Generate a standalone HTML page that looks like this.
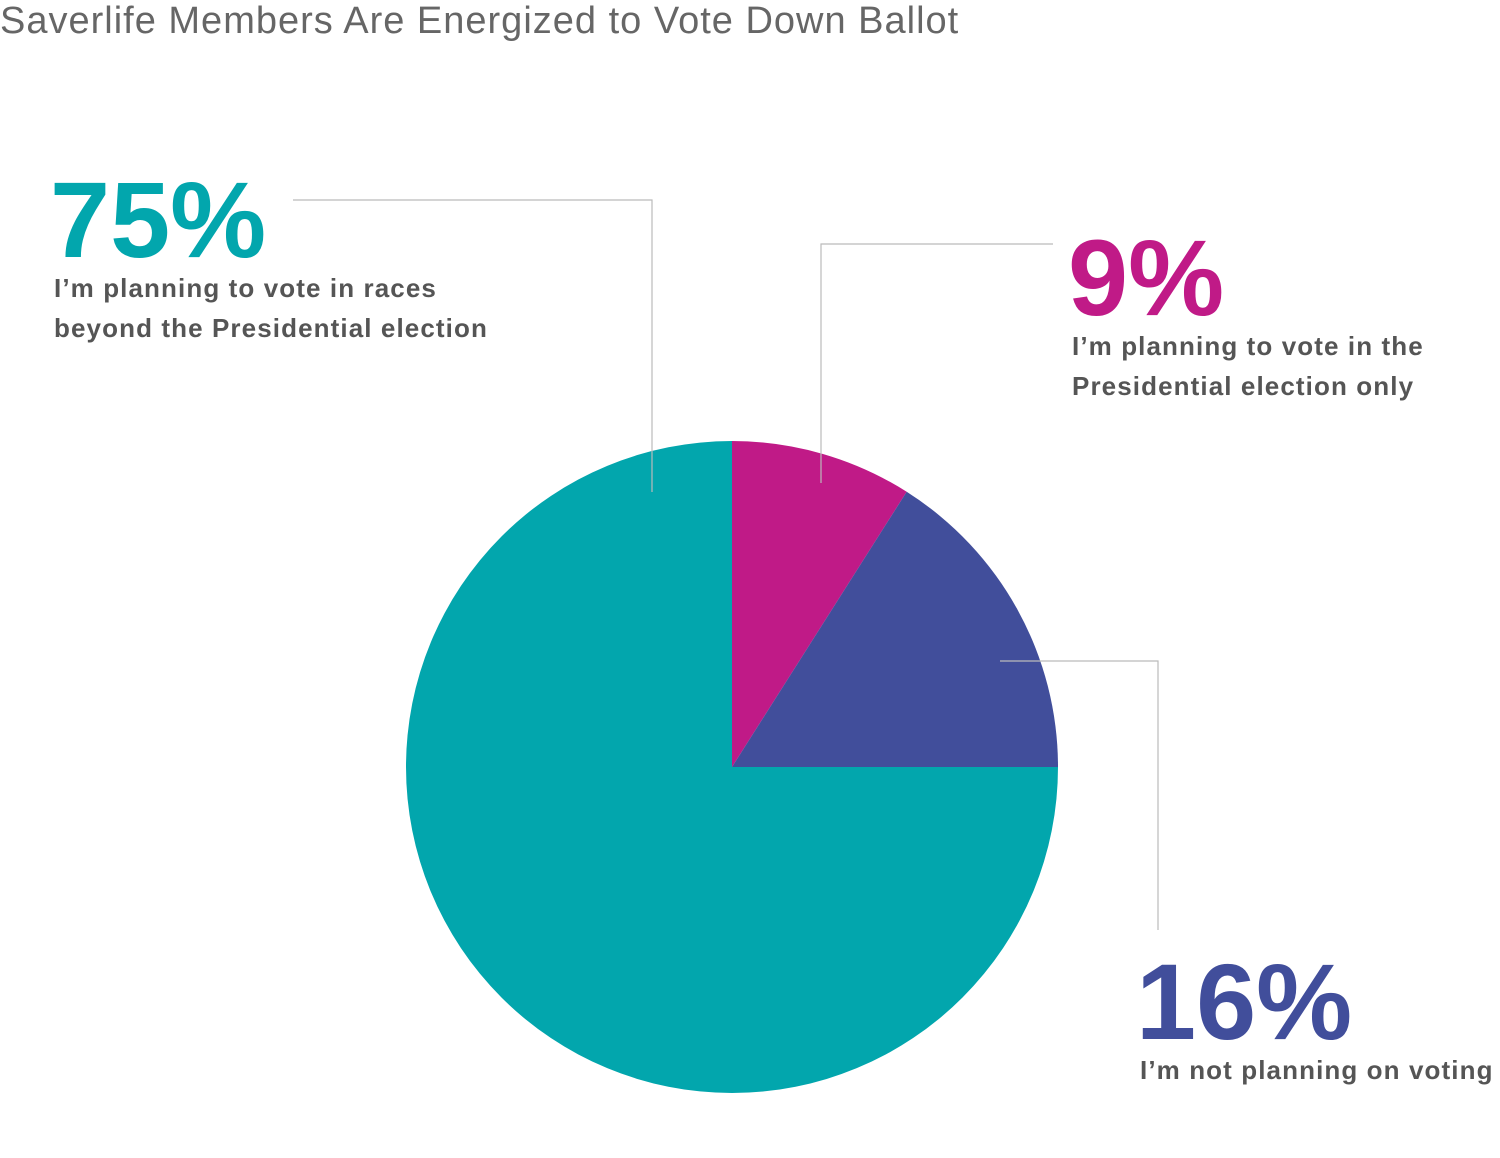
<!DOCTYPE html>
<html><head><meta charset="utf-8"><style>
body{margin:0;background:#fff;width:1500px;height:1158px;overflow:hidden;font-family:"Liberation Sans",sans-serif}
.t{position:absolute;white-space:nowrap}
.pct{font-weight:bold;font-size:108px;letter-spacing:0px;line-height:1}
.lab{font-weight:bold;font-size:26px;color:#555;line-height:40px;letter-spacing:1.1px}
</style></head><body>
<div class="t" style="left:0;top:0;font-size:38px;color:#666;letter-spacing:1px">Saverlife Members Are Energized to Vote Down Ballot</div>
<svg id="c" width="1500" height="1158" style="position:absolute;left:0;top:0"></svg>
<div class="t pct" style="left:50px;top:166px;color:#02a6ad">75%</div>
<div class="t lab" style="left:54px;top:268px">I’m planning to vote in races<br>beyond the Presidential election</div>
<div class="t pct" style="left:1068px;top:224px;color:#c01a87">9%</div>
<div class="t lab" style="left:1072px;top:326px">I’m planning to vote in the<br>Presidential election only</div>
<div class="t pct" style="left:1136px;top:948px;color:#414e9b">16%</div>
<div class="t lab" style="left:1140px;top:1050px">I’m not planning on voting</div>
<script>
const categories=["President only","Not voting","Beyond president"];
const values=[9,16,75];
const colors=["#c01a87","#414e9b","#02a6ad"];
const svg=document.getElementById('c');
const NS="http://www.w3.org/2000/svg";
const cx=732,cy=767,r=326;
const total=values.reduce((a,b)=>a+b,0);
let a0=0;
values.forEach((v,i)=>{
  const a1=a0+v/total*2*Math.PI;
  const x0=cx+r*Math.sin(a0),y0=cy-r*Math.cos(a0),x1=cx+r*Math.sin(a1),y1=cy-r*Math.cos(a1);
  const p=document.createElementNS(NS,'path');
  p.setAttribute('d',`M${cx},${cy}L${x0},${y0}A${r},${r} 0 ${a1-a0>Math.PI?1:0} 1 ${x1},${y1}Z`);
  p.setAttribute('fill',colors[i]);
  
  
  svg.appendChild(p);
  a0=a1;
});
[["293,200 652,200 652,492","leader-75"],["1053,244 821,244 821,483","leader-9"],["1000,661 1158,661 1158,930","leader-16"]].forEach(([pts,n])=>{
  const l=document.createElementNS(NS,'polyline');
  l.setAttribute('points',pts);l.setAttribute('fill','none');l.setAttribute('stroke','#bbb');l.setAttribute('stroke-width','1.2');
  
  
  svg.appendChild(l);
});
</script>
</body></html>
